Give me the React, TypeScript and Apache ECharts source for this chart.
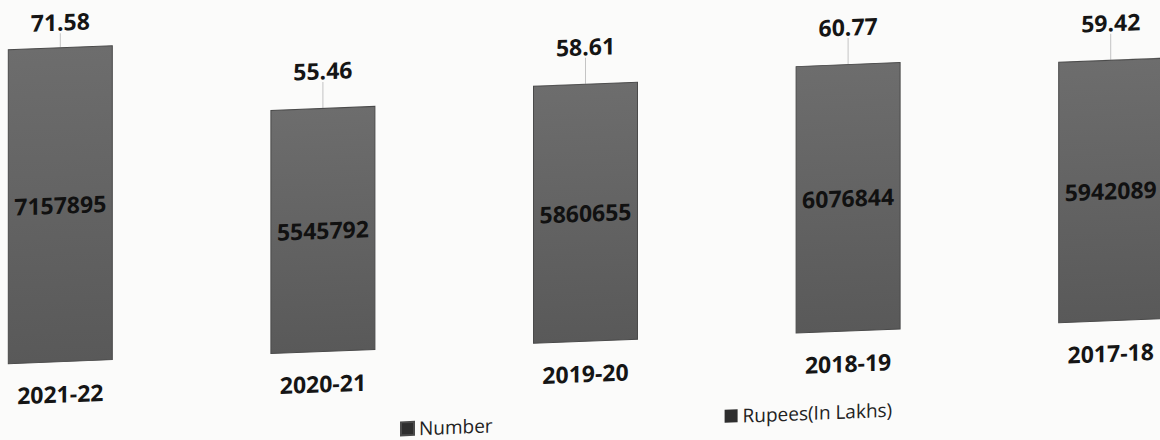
import React, { useEffect, useRef } from "react";
import * as echarts from "echarts";

const categories = ["2021-22", "2020-21", "2019-20", "2018-19", "2017-18"];
const numberValues = [7157895, 5545792, 5860655, 6076844, 5942089];
const rupeesValues = [71.58, 55.46, 58.61, 60.77, 59.42];
const seriesNames = ["Number", "Rupees(In Lakhs)"];

export default function App() {
  const ref = useRef<HTMLDivElement>(null);
  useEffect(() => {
    document.body.style.margin = "0";
    const chart = echarts.init(ref.current!, null, { renderer: "svg" });
    const font = "'Open Sans', sans-serif";
    chart.setOption({
      animation: false,
      backgroundColor: "transparent",
      legend: {
        left: 395 + 71,
        top: 430,
        itemWidth: 13,
        itemHeight: 13,
        itemGap: 232,
        icon: "rect",
        textStyle: { fontFamily: font, fontSize: 19, color: "#222" },
        data: seriesNames.map((n) => ({ name: n, itemStyle: { color: "#2e2e2e" } })),
      },
      grid: { left: 0, right: 0, top: 12.5, bottom: 115.5 },
      xAxis: {
        type: "category",
        data: categories,
        axisLine: { show: false },
        axisTick: { show: false },
        axisLabel: {
          margin: 20,
          fontFamily: font,
          fontSize: 23,
          fontWeight: "bold",
          color: "#151515",
        },
      },
      yAxis: {
        type: "value",
        min: 0,
        max: 8000000,
        show: false,
        splitLine: { show: false },
      },
      series: [
        {
          name: seriesNames[0],
          type: "bar",
          stack: "total",
          barWidth: 105,
          data: numberValues,
          itemStyle: {
            color: {
              type: "linear",
              x: 0,
              y: 0,
              x2: 0,
              y2: 1,
              colorStops: [
                { offset: 0, color: "#6d6d6d" },
                { offset: 1, color: "#595959" },
              ],
            },
            borderColor: "#4a4a4a",
            borderWidth: 1,
          },
          label: {
            show: true,
            position: "inside",
            fontFamily: font,
            fontSize: 23,
            fontWeight: "bold",
            color: "#111",
          },
        },
        {
          name: seriesNames[1],
          type: "bar",
          stack: "total",
          barWidth: 105,
          data: rupeesValues,
          itemStyle: { color: "#2e2e2e" },
          label: {
            show: true,
            position: "top",
            distance: 4,
            fontFamily: font,
            fontSize: 23,
            fontWeight: "bold",
            color: "#151515",
          },
          labelLayout: (p: any) => ({ dy: p.dataIndex === 0 ? -10 : -22 }),
          labelLine: { show: true, lineStyle: { color: "#c4c4c4", width: 1 } },
        },
      ],
    });
    return () => chart.dispose();
  }, []);
  return (
    <div
      style={{
        position: "fixed",
        left: 0,
        top: 0,
        width: 1160,
        height: 440,
        overflow: "hidden",
        background: "#fbfbfa",
      }}
    >
      <div
        ref={ref}
        style={{
          position: "absolute",
          left: -71,
          top: 0,
          width: 1313,
          height: 480,
          transform: "skewY(-2.23deg)",
          transformOrigin: "71px 0",
        }}
      />
    </div>
  );
}
